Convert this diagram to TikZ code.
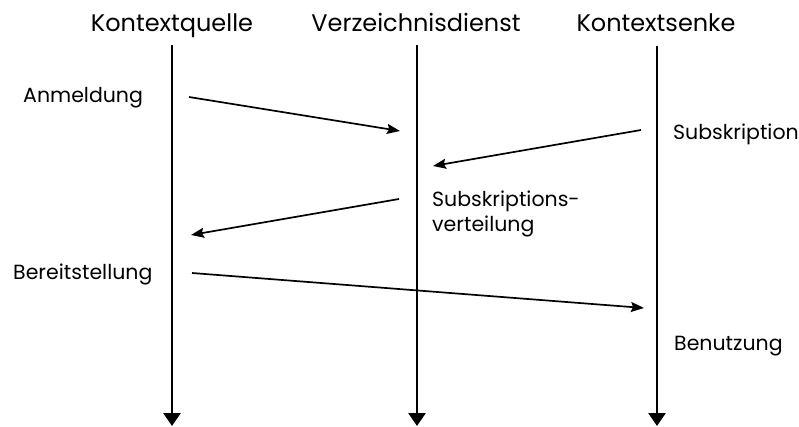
\documentclass[tikz,border=0pt]{standalone}
\usepackage{fontspec}
\setmainfont{Poppins}
\usetikzlibrary{arrows.meta}
\begin{document}
\begin{tikzpicture}[x=1pt,y=-1pt,
  title/.style={anchor=base,inner sep=0pt,font=\fontsize{24}{28}\selectfont},
  lbl/.style={anchor=base west,inner sep=0pt,font=\fontsize{20.5}{25}\selectfont,align=left},
  life/.style={line width=2.8pt,-{Triangle[length=13pt,width=17pt]}},
  msg/.style={line width=1.7pt,-{Stealth[length=13pt,width=10pt,inset=2pt]}}]
\useasboundingbox (0,0) rectangle (799,427);
% titles
\node[title] (tq) at (172,32) {Kontextquelle};
\node[title] (tv) at (416,32) {Verzeichnisdienst};
\node[title] (ts) at (656,32) {Kontextsenke};
% lifelines
\coordinate (q0) at (172,45); \coordinate (q1) at (172,426);
\coordinate (v0) at (417,45); \coordinate (v1) at (417,426);
\coordinate (s0) at (657,46); \coordinate (s1) at (657,426);
\draw[life] (q0) -- (q1);
\draw[life] (v0) -- (v1);
\draw[life] (s0) -- (s1);
% labels
\node[lbl] (an) at (23,103) {Anmeldung};
\node[lbl] (su) at (673,140) {Subskription};
\node[lbl] (sv) at (432,232) {Subskriptions-\\verteilung};
\node[lbl] (be) at (13,279) {Bereitstellung};
\node[lbl] (bn) at (674,350) {Benutzung};
% messages
\coordinate (a1) at (189,97); \coordinate (a2) at (400,131);
\coordinate (b1) at (641,130); \coordinate (b2) at (433,166);
\coordinate (c1) at (399,199); \coordinate (c2) at (191,235);
\coordinate (d1) at (192,273); \coordinate (d2) at (644,308);
\draw[msg] (a1) -- (a2);
\draw[msg] (b1) -- (b2);
\draw[msg] (c1) -- (c2);
\draw[msg] (d1) -- (d2);
\end{tikzpicture}
\end{document}
